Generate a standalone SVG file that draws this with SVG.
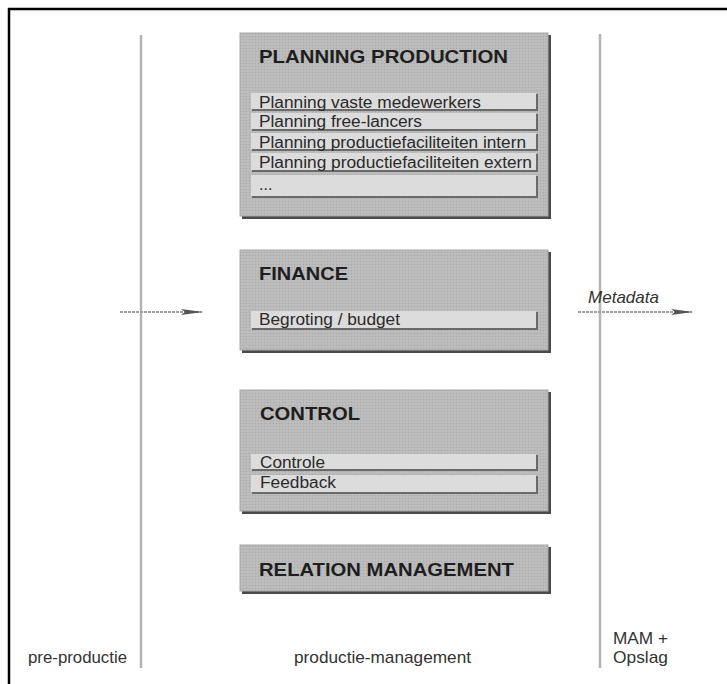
<svg xmlns="http://www.w3.org/2000/svg" width="727" height="684" viewBox="0 0 727 684">
<style>
.box{fill:url(#stip);stroke:#a8a8a8;stroke-width:1}
.shadow{fill:#4a4a4a}
.row{fill:#dcdcdc}
.rowsh{fill:#6a6a6a}
.title{font-family:"Liberation Sans",Arial,sans-serif;font-weight:bold;font-size:18.5px;fill:#1e1e1e}
.item{font-family:"Liberation Sans",Arial,sans-serif;font-size:16px;fill:#2a2a2a}
.lbl{font-family:"Liberation Sans",Arial,sans-serif;font-size:17px;fill:#333}
.vline{stroke:#b4b4b4;stroke-width:2.5;fill:none}
.conn{stroke:#a0a0a0;stroke-width:2;stroke-dasharray:3 1;fill:none}
</style>
<defs>
<pattern id="stip" width="3" height="3" patternUnits="userSpaceOnUse">
<rect width="3" height="3" fill="#bababa"/>
<rect width="1" height="1" fill="#a9a9a9"/>
<rect x="1.5" y="1.5" width="1" height="1" fill="#c6c6c6"/>
</pattern>
<marker id="ah" markerWidth="22" markerHeight="10" refX="21" refY="5" orient="auto" markerUnits="userSpaceOnUse">
<path d="M0,2 L22,5 L0,8 L4,5 Z" fill="#555"/>
</marker>
</defs>
<rect width="727" height="684" fill="#fff"/>
<g id="frame">
<line x1="8" y1="9" x2="727" y2="9" stroke="#000" stroke-width="2.5"/>
<line x1="9" y1="8" x2="9" y2="684" stroke="#000" stroke-width="2.5"/>
</g>
<g id="lanes">
<line class="vline" x1="141" y1="35" x2="141" y2="668"/>
<line class="vline" x1="600" y1="34" x2="600" y2="668"/>
</g>
<g id="planning">
<rect class="shadow" x="242" y="35" width="309" height="184"/>
<rect class="box" x="240" y="33" width="308" height="183"/>
<text class="title" x="259" y="63" textLength="249" lengthAdjust="spacingAndGlyphs">PLANNING PRODUCTION</text>
<rect class="rowsh" x="252" y="94" width="286" height="17"/><rect class="row" x="251" y="93" width="285" height="16"/>
<rect class="rowsh" x="252" y="114" width="286" height="17"/><rect class="row" x="251" y="113" width="285" height="16"/>
<rect class="rowsh" x="252" y="134" width="286" height="17"/><rect class="row" x="251" y="133" width="285" height="16"/>
<rect class="rowsh" x="252" y="154" width="286" height="18"/><rect class="row" x="251" y="153" width="285" height="17"/>
<rect class="rowsh" x="252" y="176" width="286" height="22"/><rect class="row" x="251" y="175" width="285" height="21"/>
<text class="item" x="259" y="108" textLength="222" lengthAdjust="spacingAndGlyphs">Planning vaste medewerkers</text>
<text class="item" x="259" y="127" textLength="163" lengthAdjust="spacingAndGlyphs">Planning free-lancers</text>
<text class="item" x="259" y="148" textLength="267" lengthAdjust="spacingAndGlyphs">Planning productiefaciliteiten intern</text>
<text class="item" x="259" y="168" textLength="273" lengthAdjust="spacingAndGlyphs">Planning productiefaciliteiten extern</text>
<text class="item" x="259" y="190">...</text>
</g>
<g id="finance">
<rect class="shadow" x="242" y="252" width="309" height="101"/>
<rect class="box" x="240" y="250" width="308" height="100"/>
<text class="title" x="259" y="280" textLength="89" lengthAdjust="spacingAndGlyphs">FINANCE</text>
<rect class="rowsh" x="252" y="312" width="286" height="18"/><rect class="row" x="251" y="311" width="285" height="17"/>
<text class="item" x="259" y="325" textLength="141" lengthAdjust="spacingAndGlyphs">Begroting / budget</text>
</g>
<g id="control">
<rect class="shadow" x="242" y="392" width="309" height="122"/>
<rect class="box" x="240" y="390" width="308" height="121"/>
<text class="title" x="260" y="420" textLength="100" lengthAdjust="spacingAndGlyphs">CONTROL</text>
<rect class="rowsh" x="252" y="455" width="286" height="16"/><rect class="row" x="251" y="454" width="285" height="15"/>
<rect class="rowsh" x="252" y="476" width="286" height="18"/><rect class="row" x="251" y="475" width="285" height="17"/>
<text class="item" x="260" y="468" textLength="65" lengthAdjust="spacingAndGlyphs">Controle</text>
<text class="item" x="260" y="488" textLength="76" lengthAdjust="spacingAndGlyphs">Feedback</text>
</g>
<g id="relation">
<rect class="shadow" x="242" y="547" width="309" height="47"/>
<rect class="box" x="240" y="545" width="308" height="46"/>
<text class="title" x="259" y="576" textLength="255" lengthAdjust="spacingAndGlyphs">RELATION MANAGEMENT</text>
</g>
<g id="connectors">
<line class="conn" x1="120" y1="312" x2="202" y2="312" marker-end="url(#ah)"/>
<line class="conn" x1="578" y1="312" x2="692" y2="312" marker-end="url(#ah)"/>
<text x="588" y="303" font-family="Liberation Sans,Arial,sans-serif" font-style="italic" font-size="17" fill="#333" textLength="71" lengthAdjust="spacingAndGlyphs">Metadata</text>
</g>
<g id="labels">
<text class="lbl" x="28" y="663" textLength="99" lengthAdjust="spacingAndGlyphs">pre-productie</text>
<text class="lbl" x="294" y="663" textLength="177" lengthAdjust="spacingAndGlyphs">productie-management</text>
<text class="lbl" x="613" y="644" textLength="55" lengthAdjust="spacingAndGlyphs">MAM +</text>
<text class="lbl" x="613" y="663" textLength="55" lengthAdjust="spacingAndGlyphs">Opslag</text>
</g>
</svg>
